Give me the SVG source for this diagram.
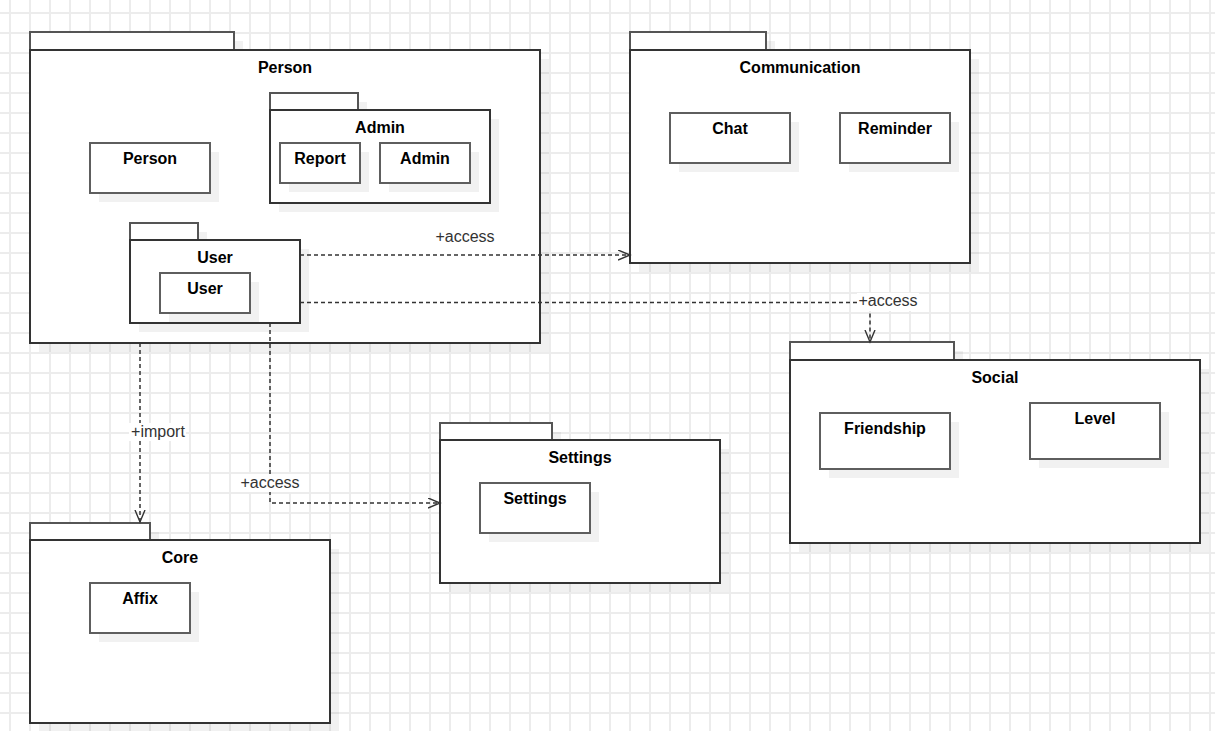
<svg xmlns="http://www.w3.org/2000/svg" width="1215" height="731" viewBox="0 0 1215 731">
  <defs>
    <pattern id="grid" patternUnits="userSpaceOnUse" x="0" y="3" width="20" height="20">
      <path d="M10 0V20M0 10H20" stroke="#ececec" stroke-width="2" fill="none"/>
    </pattern>
    <marker id="open" markerUnits="userSpaceOnUse" markerWidth="14" markerHeight="12" refX="12.5" refY="5.5" orient="auto">
      <path d="M0.5 0.5L12.5 5.5L0.5 10.5" fill="none" stroke="#333" stroke-width="1.4"/>
    </marker>
  </defs>
  <style>
    .tab{fill:#fff;stroke:#555;stroke-width:2}
    .body{fill:#fff;stroke:#333;stroke-width:2}
    .cls{fill:#fff;stroke:#5e5e5e;stroke-width:2}
    .sh{fill:#000;fill-opacity:0.055}
    .title{font-family:"Liberation Sans",Arial,sans-serif;font-size:16px;font-weight:bold;fill:#000;text-anchor:middle}
    .lbl{font-family:"Liberation Sans",Arial,sans-serif;font-size:16px;fill:#333;text-anchor:middle}
    .edge{fill:none;stroke:#333;stroke-width:1.5;stroke-dasharray:4 3}
    .lblbg{fill:#fff}
  </style>

  <rect width="1215" height="731" fill="#fff"/>
  <rect width="1215" height="731" fill="url(#grid)"/>

  <!-- Person package -->
  <g id="pkg-person">
    <rect class="sh" x="39" y="41" width="204" height="18"/>
    <rect class="sh" x="39" y="59" width="510" height="293"/>
    <rect class="tab" x="30" y="32" width="204" height="18"/>
    <rect class="body" x="30" y="50" width="510" height="293"/>
    <text class="title" x="285" y="73">Person</text>
  </g>
  <g id="cls-person">
    <rect class="sh" x="99" y="152" width="120" height="50"/>
    <rect class="cls" x="90" y="143" width="120" height="50"/>
    <text class="title" x="150" y="164">Person</text>
  </g>

  <!-- Admin package -->
  <g id="pkg-admin">
    <rect class="sh" x="279" y="102" width="88" height="17"/>
    <rect class="sh" x="279" y="119" width="220" height="93"/>
    <rect class="tab" x="270" y="93" width="88" height="17"/>
    <rect class="body" x="270" y="110" width="220" height="93"/>
    <text class="title" x="380" y="133">Admin</text>
  </g>
  <g id="cls-report">
    <rect class="sh" x="289" y="152" width="80" height="40"/>
    <rect class="cls" x="280" y="143" width="80" height="40"/>
    <text class="title" x="320" y="164">Report</text>
  </g>
  <g id="cls-admin">
    <rect class="sh" x="389" y="152" width="90" height="40"/>
    <rect class="cls" x="380" y="143" width="90" height="40"/>
    <text class="title" x="425" y="164">Admin</text>
  </g>

  <!-- User package -->
  <g id="pkg-user">
    <rect class="sh" x="139" y="232" width="68" height="17"/>
    <rect class="sh" x="139" y="249" width="170" height="83"/>
    <rect class="tab" x="130" y="223" width="68" height="17"/>
    <rect class="body" x="130" y="240" width="170" height="83"/>
    <text class="title" x="215" y="263">User</text>
  </g>
  <g id="cls-user">
    <rect class="sh" x="169" y="282" width="90" height="40"/>
    <rect class="cls" x="160" y="273" width="90" height="40"/>
    <text class="title" x="205" y="294">User</text>
  </g>

  <!-- Communication package -->
  <g id="pkg-communication">
    <rect class="sh" x="639" y="41" width="136" height="18"/>
    <rect class="sh" x="639" y="59" width="340" height="213"/>
    <rect class="tab" x="630" y="32" width="136" height="18"/>
    <rect class="body" x="630" y="50" width="340" height="213"/>
    <text class="title" x="800" y="73">Communication</text>
  </g>
  <g id="cls-chat">
    <rect class="sh" x="679" y="122" width="120" height="50"/>
    <rect class="cls" x="670" y="113" width="120" height="50"/>
    <text class="title" x="730" y="134">Chat</text>
  </g>
  <g id="cls-reminder">
    <rect class="sh" x="849" y="122" width="110" height="50"/>
    <rect class="cls" x="840" y="113" width="110" height="50"/>
    <text class="title" x="895" y="134">Reminder</text>
  </g>

  <!-- Social package -->
  <g id="pkg-social">
    <rect class="sh" x="799" y="351" width="164" height="18"/>
    <rect class="sh" x="799" y="369" width="410" height="183"/>
    <rect class="tab" x="790" y="342" width="164" height="18"/>
    <rect class="body" x="790" y="360" width="410" height="183"/>
    <text class="title" x="995" y="383">Social</text>
  </g>
  <g id="cls-friendship">
    <rect class="sh" x="829" y="422" width="130" height="56"/>
    <rect class="cls" x="820" y="413" width="130" height="56"/>
    <text class="title" x="885" y="434">Friendship</text>
  </g>
  <g id="cls-level">
    <rect class="sh" x="1039" y="412" width="130" height="56"/>
    <rect class="cls" x="1030" y="403" width="130" height="56"/>
    <text class="title" x="1095" y="424">Level</text>
  </g>

  <!-- Settings package -->
  <g id="pkg-settings">
    <rect class="sh" x="449" y="432" width="112" height="17"/>
    <rect class="sh" x="449" y="449" width="280" height="143"/>
    <rect class="tab" x="440" y="423" width="112" height="17"/>
    <rect class="body" x="440" y="440" width="280" height="143"/>
    <text class="title" x="580" y="463">Settings</text>
  </g>
  <g id="cls-settings">
    <rect class="sh" x="489" y="492" width="110" height="50"/>
    <rect class="cls" x="480" y="483" width="110" height="50"/>
    <text class="title" x="535" y="504">Settings</text>
  </g>

  <!-- Core package -->
  <g id="pkg-core">
    <rect class="sh" x="39" y="532" width="120" height="17"/>
    <rect class="sh" x="39" y="549" width="300" height="183"/>
    <rect class="tab" x="30" y="523" width="120" height="17"/>
    <rect class="body" x="30" y="540" width="300" height="183"/>
    <text class="title" x="180" y="563">Core</text>
  </g>
  <g id="cls-affix">
    <rect class="sh" x="99" y="592" width="100" height="50"/>
    <rect class="cls" x="90" y="583" width="100" height="50"/>
    <text class="title" x="140" y="604">Affix</text>
  </g>

  <!-- Dependencies -->
  <g id="connectors">
    <path class="edge" d="M300 255H630" marker-end="url(#open)"/>
    <path class="edge" d="M300 302.5H870V342" marker-end="url(#open)"/>
    <path class="edge" d="M140 343V522" marker-end="url(#open)"/>
    <path class="edge" d="M270 323V503H440" marker-end="url(#open)"/>

    <rect class="lblbg" x="434" y="228" width="62" height="18"/>
    <text class="lbl" x="465" y="242">+access</text>

    <rect class="lblbg" x="857" y="293" width="62" height="18"/>
    <text class="lbl" x="888" y="306">+access</text>

    <rect class="lblbg" x="129" y="423" width="57" height="18"/>
    <text class="lbl" x="158" y="437">+import</text>

    <rect class="lblbg" x="239" y="474" width="62" height="18"/>
    <text class="lbl" x="270" y="488">+access</text>
  </g>
</svg>
